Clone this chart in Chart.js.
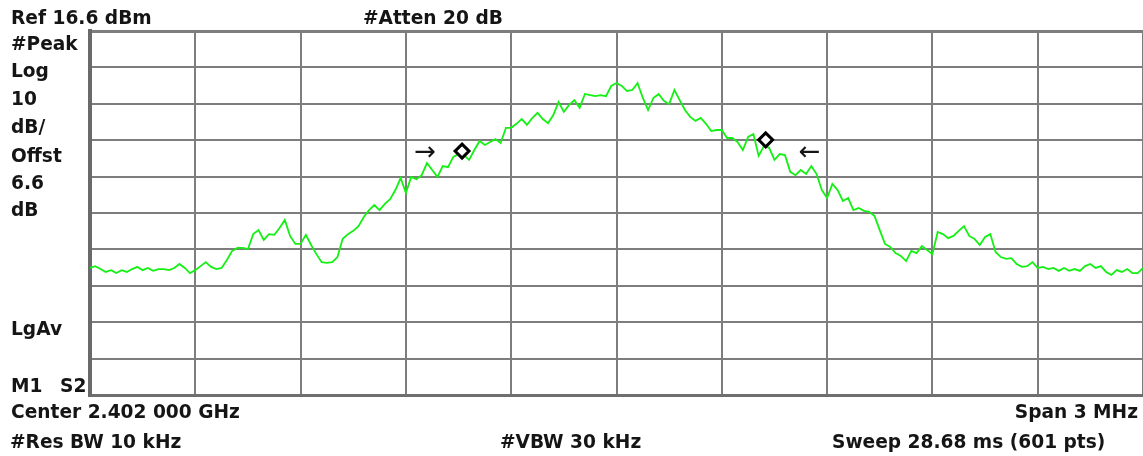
<!DOCTYPE html>
<html lang="en">
<head>
<meta charset="utf-8">
<title>Spectrum Trace</title>
<script src="https://cdn.jsdelivr.net/npm/chart.js@4.4.1/dist/chart.umd.min.js"></script>
<style>
    html, body { margin: 0; padding: 0; background: #fff; overflow: hidden; }
    .wrap { position: relative; width: 1143px; height: 456px; }
    .wrap canvas { display: block; }
</style>
</head>
<body>

<div class="wrap">
    <canvas id="specChart"></canvas>
</div>

<script>
    // analyzer settings
    const REF_LEVEL = 16.6;
    const DB_PER_DIV = 10;
    const NUM_DIVS = 10;
    const POINT_STEP = 3;   // one reading per 3 of the 601 sweep points

    // trace readings in dBm (sweep points 0, 3, 6 ... 600)
    const traceLevels = [
        -48.5, -48.0, -48.8, -49.6, -49.1, -49.9, -49.1, -49.6, -48.8, -48.2, -49.1,
        -48.5, -49.3, -48.8, -48.8, -49.1, -48.5, -47.4, -48.5, -49.9, -49.1,
        -48.0, -46.9, -48.2, -48.8, -48.5, -46.3, -43.8, -43.0, -43.0, -43.3,
        -39.2, -38.1, -40.8, -39.2, -39.4, -37.5, -35.3, -39.7, -41.9, -41.9,
        -39.4, -42.2, -44.7, -46.9, -47.1, -46.9, -45.5, -40.5, -39.2, -38.3,
        -37.0, -34.5, -32.6, -31.2, -32.6, -30.9, -29.6, -27.1, -23.8, -27.9,
        -23.5, -24.1, -23.0, -19.7, -21.6, -23.5, -20.5, -20.8, -18.0, -17.2,
        -17.5, -18.8, -16.1, -13.6, -14.7, -13.9, -13.1, -14.2, -10.0, -10.0,
        -8.9, -7.6, -9.2, -7.3, -5.9, -7.6, -8.7, -6.5, -2.9, -5.6,
        -3.7, -2.4, -4.5, -0.7, -1.0, -1.3, -1.0, -1.3, 1.5, 2.3,
        1.5, 0.1, 0.4, 2.3, -1.8, -5.1, -1.8, -0.7, -2.6, -3.5,
        0.4, -2.4, -5.1, -7.0, -8.1, -7.3, -8.9, -10.9, -10.6, -10.6,
        -12.8, -12.8, -13.9, -16.1, -12.5, -11.7, -17.7, -15.0, -15.5, -18.8,
        -17.2, -17.5, -22.1, -23.0, -21.6, -22.7, -20.5, -22.7, -27.1, -29.3,
        -25.4, -27.1, -30.1, -29.3, -32.6, -32.0, -32.8, -33.1, -34.2, -38.1,
        -41.9, -42.7, -44.4, -45.2, -46.6, -43.8, -44.4, -42.5, -43.6, -44.7,
        -38.6, -39.2, -40.3, -39.7, -38.3, -37.0, -39.7, -40.5, -42.2, -40.0,
        -39.2, -44.1, -45.5, -46.0, -45.8, -47.4, -48.2, -48.0, -46.9, -48.5,
        -48.2, -48.8, -48.5, -49.3, -48.5, -49.3, -48.8, -49.3, -48.0, -47.4,
        -48.5, -48.0, -49.6, -50.4, -49.1, -49.6, -48.8, -49.9, -49.9, -48.5
    ];

    // markers (sweep point, dBm) and the band-edge arrows
    const markerPoints = [212, 385];
    const markerLevels = [-16.4, -13.3];
    const arrowPoints = [191, 410];
    const arrowLevels = [-17.0, -17.0];
    const arrowGlyphs = ['\u2192', '\u2190'];

    // graticule
    const pointTicks = [0, 60, 120, 180, 240, 300, 360, 420, 480, 540, 600];
    const levelTicks = [16.6, 6.6, -3.4, -13.4, -23.4, -33.4, -43.4, -53.4, -63.4, -73.4, -83.4];

    // screen annotation text
    const screenText = [
        {t: 'Ref 16.6 dBm', x: 11, y: 24},
        {t: '#Atten 20 dB', x: 363, y: 24},
        {t: '#Peak', x: 11, y: 50},
        {t: 'Log', x: 11, y: 77},
        {t: '10', x: 11, y: 105},
        {t: 'dB/', x: 11, y: 133},
        {t: 'Offst', x: 11, y: 162},
        {t: '6.6', x: 11, y: 189},
        {t: 'dB', x: 11, y: 216},
        {t: 'LgAv', x: 11, y: 335},
        {t: 'M1', x: 11, y: 392},
        {t: 'S2', x: 60, y: 392},
        {t: 'Center 2.402 000 GHz', x: 11, y: 418},
        {t: 'Span 3 MHz', x: 1138, y: 418, align: 'right'},
        {t: '#Res BW 10 kHz', x: 10, y: 448},
        {t: '#VBW 30 kHz', x: 500, y: 448},
        {t: 'Sweep 28.68 ms (601 pts)', x: 832, y: 448}
    ];

    const tracePoints = traceLevels.map((v, i) => ({x: i * POINT_STEP, y: v}));
    const markerData = markerPoints.map((p, i) => ({x: p, y: markerLevels[i]}));

    const screenLabels = {
        id: 'screenLabels',
        afterDraw(chart) {
            const ctx = chart.ctx;
            ctx.save();
            ctx.fillStyle = '#151515';
            ctx.font = 'bold 18.6px "DejaVu Sans", Verdana, sans-serif';
            ctx.textBaseline = 'alphabetic';
            screenText.forEach(s => {
                ctx.textAlign = s.align || 'left';
                ctx.fillText(s.t, s.x, s.y);
            });

            // arrows
            ctx.font = '26px "DejaVu Sans", sans-serif';
            ctx.textAlign = 'center';
            ctx.textBaseline = 'middle';
            arrowPoints.forEach((p, i) => {
                const px = chart.scales.x.getPixelForValue(p);
                const py = chart.scales.y.getPixelForValue(arrowLevels[i]);
                ctx.fillText(arrowGlyphs[i], px, py);
            });
            ctx.restore();
        }
    };

    new Chart(document.getElementById('specChart'), {
        type: 'line',
        data: {
            datasets: [{
                label: 'Markers',
                data: markerData,
                showLine: false,
                pointStyle: 'rectRot',
                pointRadius: 7,
                pointBorderWidth: 3,
                pointBorderColor: '#000',
                pointBackgroundColor: '#fff',
                order: 0
            }, {
                label: 'Trace',
                data: tracePoints,
                borderColor: '#14f014',
                borderWidth: 1.8,
                pointRadius: 0,
                tension: 0,
                fill: false,
                order: 1
            }]
        },
        options: {
            responsive: true,
            maintainAspectRatio: false,
            animation: false,
            layout: {
                autoPadding: false,
                padding: {left: 90, top: 31, right: 0, bottom: 61}
            },
            plugins: {
                legend: {display: false},
                tooltip: {enabled: false}
            },
            scales: {
                x: {
                    type: 'linear',
                    min: 0,
                    max: 600,
                    afterBuildTicks: (scale) => { scale.ticks = pointTicks.map(v => ({value: v})); },
                    ticks: {display: false},
                    grid: {color: '#7d7d7d', lineWidth: 2, drawTicks: false},
                    border: {display: true, color: '#6e6e6e', width: 3}
                },
                y: {
                    type: 'linear',
                    min: REF_LEVEL - DB_PER_DIV * NUM_DIVS,
                    max: REF_LEVEL,
                    afterBuildTicks: (scale) => { scale.ticks = levelTicks.map(v => ({value: v})); },
                    ticks: {display: false},
                    grid: {
                        color: '#7d7d7d',
                        lineWidth: (c) => (c.tick && c.tick.value === REF_LEVEL ? 3 : 2),
                        drawTicks: false
                    },
                    border: {display: true, color: '#6a6a6a', width: 4}
                }
            }
        },
        plugins: [screenLabels]
    });
</script>

</body>
</html>
